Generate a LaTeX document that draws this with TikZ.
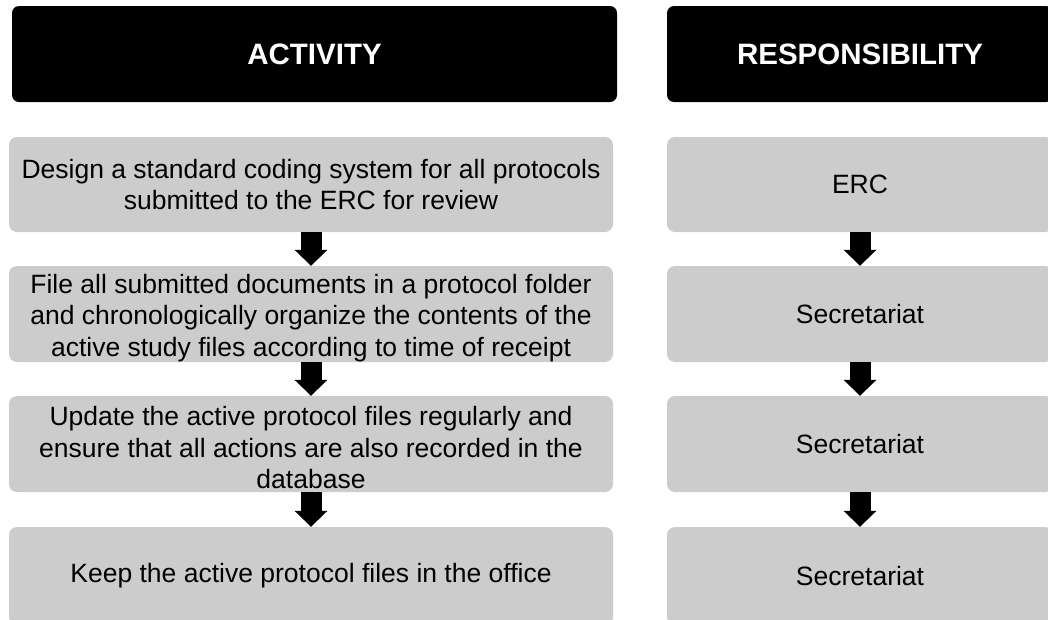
\documentclass[tikz,border=0pt]{standalone}
\usepackage{fontspec}
\setmainfont{Liberation Sans}
\usetikzlibrary{arrows.meta}
\definecolor{boxgray}{HTML}{CCCCCC}
\newcommand{\topstrut}{\rule{0pt}{27pt}}
\tikzset{
  hdr/.style={fill=black, text=white, rounded corners=7pt, inner sep=0pt,
    minimum height=96pt, font=\fontsize{29.5}{34}\selectfont\bfseries},
  actbox/.style={fill=boxgray, text=black, rounded corners=8pt, inner sep=0pt,
    align=center, font=\fontsize{26.5}{31.5}\selectfont},
  flowarrow/.style={line width=21pt, -{Triangle[width=32pt,length=16pt]}},
}
\begin{document}
\begin{tikzpicture}[x=1pt,y=-1pt]
\useasboundingbox (0,0) rectangle (1048,619);
\begin{scope}
\clip (0,0) rectangle (1048,619);
% headers
\node[hdr, minimum width=605pt] (ha) at (314.5,54) {ACTIVITY};
\node[hdr, minimum width=386pt] (hr) at (860,54) {RESPONSIBILITY};
% activity column
\node[actbox, minimum width=604pt, minimum height=95pt] (a1) at (311,184.5)
  {Design a standard coding system for all protocols\\submitted to the ERC for review};
\node[actbox, minimum width=604pt, minimum height=96pt] (a2) at (311,314)
  {\topstrut File all submitted documents in a protocol folder\\and chronologically organize the contents of the\\active study files according to time of receipt};
\node[actbox, minimum width=604pt, minimum height=96pt] (a3) at (311,444)
  {\topstrut Update the active protocol files regularly and\\ensure that all actions are also recorded in the\\database};
\node[actbox, minimum width=604pt, minimum height=98pt] (a4) at (311,576)
  {Keep the active protocol files in the office};
% responsibility column
\node[actbox, minimum width=386pt, minimum height=95pt] (r1) at (860,184.5) {ERC};
\node[actbox, minimum width=386pt, minimum height=96pt] (r2) at (860,314) {Secretariat};
\node[actbox, minimum width=386pt, minimum height=96pt] (r3) at (860,444) {Secretariat};
\node[actbox, minimum width=386pt, minimum height=98pt] (r4) at (860,576) {Secretariat};
% arrows
\draw[flowarrow] (a1.south) -- (a2.north);
\draw[flowarrow] (a2.south) -- (a3.north);
\draw[flowarrow] (a3.south) -- (a4.north);
\draw[flowarrow] (r1.south) -- (r2.north);
\draw[flowarrow] (r2.south) -- (r3.north);
\draw[flowarrow] (r3.south) -- (r4.north);
\end{scope}
\end{tikzpicture}
\end{document}
